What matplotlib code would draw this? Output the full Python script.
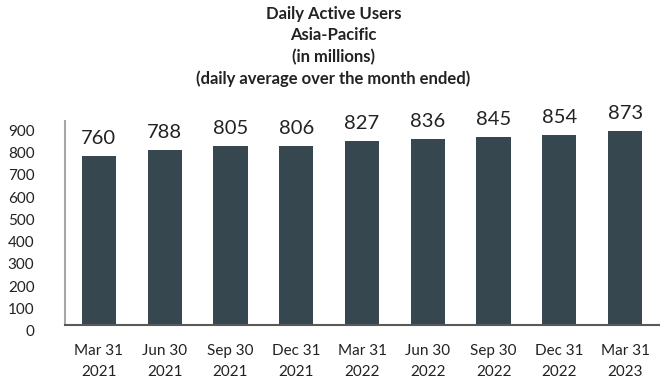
import matplotlib
matplotlib.use("Agg")
import matplotlib.pyplot as plt

# quarter-end dates and DAU values (millions)
quarters = ["Mar 31\n2021", "Jun 30\n2021", "Sep 30\n2021", "Dec 31\n2021",
            "Mar 31\n2022", "Jun 30\n2022", "Sep 30\n2022", "Dec 31\n2022",
            "Mar 31\n2023"]
dau = [760, 788, 805, 806, 827, 836, 845, 854, 873]
yticks = [0, 100, 200, 300, 400, 500, 600, 700, 800, 900]

plt.rcParams['font.family'] = ['Lato', 'DejaVu Sans']

fig = plt.figure(figsize=(6.6, 3.8), dpi=100)
ax = fig.add_axes([65/660, (380-325)/380, (660-65)/660, (325-121)/380])

x = range(len(dau))
bars = ax.bar(x, dau, width=0.52, color='#36474f')
for xi, v in zip(x, dau):
    ax.text(xi, v + 40, str(v), ha='center', va='bottom', fontsize=14.5, color='#222222')

ax.set_xlim(-0.515, 8.53)
ax.set_ylim(0, 918)
ax.set_yticks(yticks)
ax.set_yticklabels([str(t) for t in yticks], fontsize=11, color='#222222')
ax.tick_params(axis='y', length=0, pad=22)
for lab in ax.get_yticklabels():
    lab.set_va('top')
ax.set_xticks(list(x))
ax.set_xticklabels(quarters, fontsize=11, color='#222222', linespacing=1.6)
ax.tick_params(axis='x', length=0, pad=14)

ax.spines['top'].set_visible(False)
ax.spines['right'].set_visible(False)
ax.spines['left'].set_color('#a6a6a6')
ax.spines['left'].set_linewidth(1.5)
ax.spines['bottom'].set_color('#595959')
ax.spines['bottom'].set_linewidth(1.5)

fig.text(0.505, 0.985, "Daily Active Users\nAsia-Pacific\n(in millions)\n(daily average over the month ended)",
         ha='center', va='top', fontsize=12, fontweight='bold', color='#222222', linespacing=1.42)

fig.savefig("out.png", dpi=100)
